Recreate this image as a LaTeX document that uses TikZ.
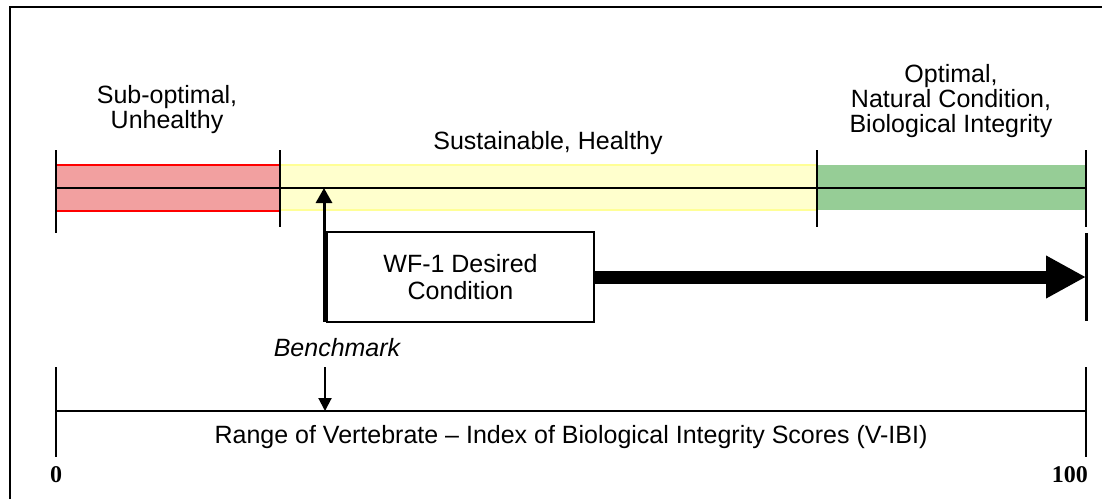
\documentclass[tikz,border=0pt]{standalone}
\usepackage{fontspec}
\setmainfont{Liberation Sans}
\newfontfamily\serifbold{Liberation Serif}
\usetikzlibrary{arrows.meta}
\definecolor{redfill}{RGB}{242,160,160}
\definecolor{redline}{RGB}{255,0,0}
\definecolor{yellowfill}{RGB}{255,255,205}
\definecolor{yellowline}{RGB}{255,255,150}
\definecolor{greenfill}{RGB}{150,205,150}
\begin{document}
\begin{tikzpicture}[x=1pt,y=-1pt,
  font=\fontsize{25}{25}\selectfont,
  lbl/.style={align=center, inner sep=0pt},
  tick/.style={line width=1.5pt},
  box/.style={draw, line width=1.2pt, minimum width=267pt, minimum height=90pt, inner sep=0pt, align=center},
  numlbl/.style={inner sep=0pt, font=\serifbold\bfseries\fontsize{24}{27}\selectfont}]
\useasboundingbox (0,0) rectangle (1102,499);
% frame
\draw[line width=2pt] (10,499) -- (10,7) -- (1102,7);
% bands
\fill[redfill] (56,165) rectangle (280,211);
\draw[redline, line width=1.2pt] (56,165) rectangle (280,211);
\fill[yellowfill] (280,165) rectangle (817,210);
\draw[yellowline, line width=1.2pt] (280,165) rectangle (817,210);
\fill[greenfill] (817,165) rectangle (1086,210);
\draw[line width=1.5pt] (56,188) -- (1086,188);
% ticks
\draw[tick] (56,150) -- (56,233);
\draw[tick] (280,150) -- (280,227);
\draw[tick] (817,150) -- (817,227);
\draw[tick] (1086,150) -- (1086,227);
\draw[line width=3pt] (1086,233) -- (1086,321);
% labels
\node[lbl] (sub) at (167,110) {Sub-optimal,\\Unhealthy};
\node[lbl] (sus) at (548,143) {Sustainable, Healthy};
\node[lbl] (opt) at (951,101) {Optimal,\\Natural Condition,\\Biological Integrity};
% desired box
\node[box, font=\fontsize{25}{27}\selectfont] (desired) at (460.5,277) {WF-1 Desired\\Condition};
\coordinate (bstart) at (324,322);
\coordinate (bench) at (324,188);
\draw[line width=3pt, -{Triangle[length=15pt,width=16pt]}] (bstart) -- (bench);
\coordinate (optend) at (1086,277);
\draw[line width=13pt, -{Triangle[length=40pt,width=40pt]}] (desired.east) -- (optend);
% benchmark
\node[lbl, font=\itshape\fontsize{25}{25}\selectfont] (benchlbl) at (337,348) {Benchmark};
\coordinate (d1) at (325,367);
\coordinate (d2) at (325,411);
\draw[line width=2pt, -{Triangle[length=13pt,width=13pt]}] (d1) -- (d2);
% range
\draw[line width=2pt] (56,411) -- (1086,411);
\draw[tick] (56,367) -- (56,457);
\draw[tick] (1086,367) -- (1086,457);
\node[lbl] (range) at (571,437) {Range of Vertebrate -- Index of Biological Integrity Scores (V-IBI)};
\node[numlbl] (zero) at (56,475) {0};
\node[numlbl, anchor=east] (hundred) at (1088,475) {100};
\end{tikzpicture}
\end{document}
